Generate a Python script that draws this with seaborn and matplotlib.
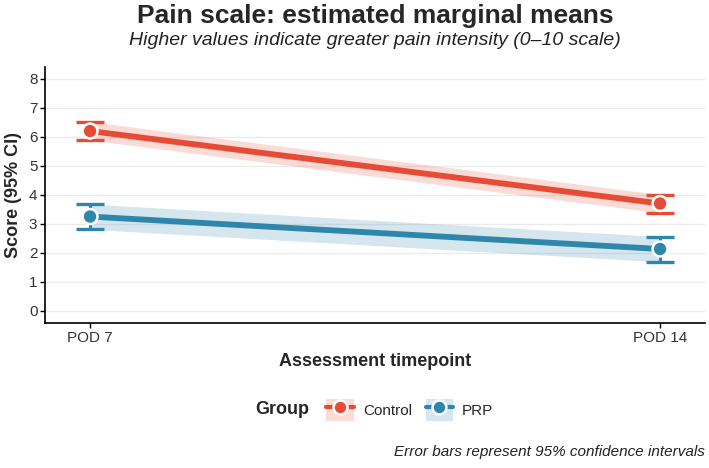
import matplotlib
matplotlib.use("Agg")
import matplotlib.pyplot as plt
from matplotlib.patches import Patch
from matplotlib.lines import Line2D
import numpy as np
import pandas as pd
import seaborn as sns

# estimated marginal means
timepoints = ["POD 7", "POD 14"]
groups = ["Control", "PRP"]
control_mean = [6.20, 3.70]
control_lo = [5.89, 3.38]
control_hi = [6.52, 4.01]
prp_mean = [3.25, 2.13]
prp_lo = [2.81, 1.69]
prp_hi = [3.68, 2.56]

colors = {"Control": "#E64B35", "PRP": "#2E86AB"}

x_pos = np.arange(1, len(timepoints) + 1)
df = pd.DataFrame({
    "x": np.tile(x_pos, 2),
    "timepoint": timepoints * 2,
    "group": np.repeat(groups, len(timepoints)),
    "mean": control_mean + prp_mean,
    "lo": control_lo + prp_lo,
    "hi": control_hi + prp_hi,
})

sns.set(style="white")
plt.rcParams["font.family"] = ["Liberation Sans", "DejaVu Sans"]

fig = plt.figure(figsize=(7.09, 4.68), dpi=100)
ax = fig.add_axes([0.0635, 0.31, 0.931, 0.5475])

for y in range(0, 9):
    ax.axhline(y, color="#EBEBEB", lw=1.0, zorder=0)

for g in groups:
    d = df[df.group == g]
    ax.fill_between(d["x"], d["lo"], d["hi"], color=colors[g], alpha=0.2, lw=0, zorder=1)

sns.lineplot(data=df, x="x", y="mean", hue="group", palette=colors, lw=4.2,
             legend=False, ax=ax, zorder=2)

for g in groups:
    d = df[df.group == g]
    ax.errorbar(d["x"], d["mean"], yerr=[d["mean"] - d["lo"], d["hi"] - d["mean"]],
                fmt="none", ecolor=colors[g], elinewidth=2.2, capsize=9.8,
                capthick=2.4, zorder=3)

sns.scatterplot(data=df, x="x", y="mean", hue="group", palette=colors, s=115,
                edgecolor="white", linewidth=1.8, legend=False, ax=ax, zorder=4)

ax.set_xlim(0.921, 2.079)
ax.set_ylim(-0.42, 8.42)
ax.set_xticks(x_pos)
ax.set_xticklabels(timepoints)
ax.set_yticks(range(0, 9))
for s in ["top", "right"]:
    ax.spines[s].set_visible(False)
for s in ["left", "bottom"]:
    ax.spines[s].set_color("black")
    ax.spines[s].set_linewidth(1.2)
ax.tick_params(axis="both", length=3.5, width=1.0, color="black", labelsize=11,
               labelcolor="#333333", pad=2, bottom=True, left=True)

ax.set_xlabel("Assessment timepoint", fontsize=13, fontweight="bold", labelpad=6)
ax.set_ylabel("Score (95% CI)", fontsize=13, fontweight="bold", labelpad=5)

fig.text(0.529, 0.966, "Pain scale: estimated marginal means", ha="center",
         va="center", fontsize=19, fontweight="bold")
fig.text(0.529, 0.914, "Higher values indicate greater pain intensity (0\u201310 scale)",
         ha="center", va="center", fontsize=14, style="italic", color="#222222")

handles = []
for g in groups:
    box = Patch(facecolor=colors[g], alpha=0.2, edgecolor="none")
    ln = Line2D([], [], color=colors[g], lw=3, marker="o", markersize=10,
                markeredgecolor="white", markeredgewidth=1.8)
    handles.append((box, ln))

fig.text(0.36, 0.124, "Group", ha="left", va="center", fontsize=13, fontweight="bold")
fig.legend(handles, groups, loc="center", bbox_to_anchor=(0.578, 0.124), ncol=2,
           frameon=False, fontsize=11, handlelength=1.8, handleheight=1.8,
           handletextpad=0.6, columnspacing=0.9)

fig.text(0.994, 0.034, "Error bars represent 95% confidence intervals", ha="right",
         va="center", fontsize=11, style="italic", color="#222222")

fig.savefig("out.png", dpi=100, facecolor="white")
